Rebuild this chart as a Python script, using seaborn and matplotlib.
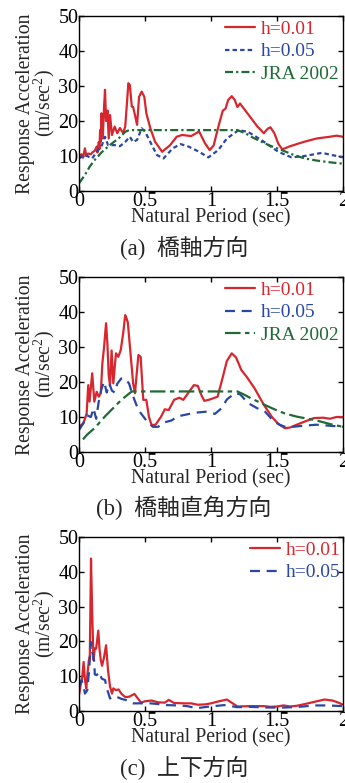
import numpy as np
import pandas as pd
import matplotlib
matplotlib.use("Agg")
import matplotlib.pyplot as plt
import seaborn as sns

# ---------------- data: acceleration response spectra ----------------
# (a) longitudinal direction
a_t_h01 = [0.00, 0.02, 0.03, 0.045, 0.055, 0.07, 0.09, 0.10, 0.12, 0.134, 0.14, 0.15,
           0.155, 0.16, 0.165, 0.17, 0.18, 0.19, 0.197, 0.205, 0.216, 0.225, 0.235,
           0.25, 0.27, 0.29, 0.31, 0.335, 0.35, 0.365, 0.374, 0.385, 0.40, 0.41,
           0.424, 0.44, 0.455, 0.475, 0.495, 0.51, 0.54, 0.576, 0.63, 0.69, 0.74,
           0.78, 0.85, 0.91, 0.955, 0.99, 1.02, 1.06, 1.09, 1.11, 1.13, 1.157,
           1.18, 1.20, 1.22, 1.25, 1.30, 1.35, 1.40, 1.43, 1.45, 1.48, 1.51, 1.54,
           1.60, 1.70, 1.80, 1.90, 1.95, 2.00]
a_h01 = [10.0, 10.5, 9.5, 12.2, 10.0, 10.7, 10.5, 11.0, 11.5, 12.7, 11.0, 14.0,
         12.0, 17.4, 14.0, 22.2, 15.0, 24.0, 28.9, 20.0, 23.0, 15.0, 21.7,
         16.0, 18.4, 16.5, 18.0, 16.5, 18.4, 26.0, 30.8, 30.3, 24.1, 24.0,
         21.7, 18.9, 26.9, 28.4, 26.9, 22.2, 18.0, 14.1, 11.2, 13.1, 15.5,
         16.0, 15.7, 17.0, 13.6, 11.7, 13.0, 19.0, 23.0, 23.5, 26.0, 27.1,
         26.0, 24.0, 25.0, 23.5, 21.0, 18.5, 16.5, 17.8, 18.2, 16.5, 13.5, 11.9,
         12.8, 14.0, 15.0, 15.5, 15.8, 15.5]
a_t_h05 = [0.00, 0.045, 0.10, 0.134, 0.17, 0.197, 0.22, 0.27, 0.31, 0.35, 0.385,
           0.41, 0.44, 0.475, 0.50, 0.54, 0.59, 0.64, 0.71, 0.77, 0.83, 0.91,
           0.98, 1.055, 1.12, 1.21, 1.28, 1.38, 1.51, 1.61, 1.71, 1.84, 2.00]
a_h05 = [9.3, 10.3, 9.3, 11.2, 12.7, 15.5, 13.1, 13.1, 12.8, 14.0, 15.5,
         14.0, 14.6, 17.9, 17.0, 14.0, 10.3, 9.3, 12.2, 13.4, 12.7, 11.2,
         9.6, 11.7, 15.0, 17.4, 16.9, 14.6, 11.2, 9.6, 10.0, 10.9, 9.6]
a_t_jra = [0.00, 0.045, 0.08, 0.12, 0.17, 0.22, 0.26, 0.30, 0.35, 0.38, 1.20,
           1.26, 1.32, 1.38, 1.45, 1.535, 1.62, 1.71, 1.80, 1.90, 2.00]
a_jra = [2.2, 4.6, 6.9, 8.9, 11.0, 12.7, 13.9, 15.0, 16.9, 17.4, 17.4,
         16.5, 15.2, 14.1, 12.9, 11.7, 10.4, 9.3, 8.7, 8.2, 7.8]

# (b) transverse direction
b_t_h01 = [0.00, 0.033, 0.058, 0.07, 0.08, 0.10, 0.116, 0.134, 0.15, 0.165, 0.177,
           0.19, 0.205, 0.215, 0.225, 0.235, 0.247, 0.26, 0.28, 0.298, 0.316,
           0.335, 0.35, 0.36, 0.37, 0.386, 0.40, 0.41, 0.424, 0.45, 0.467, 0.487,
           0.51, 0.53, 0.55, 0.58, 0.62, 0.65, 0.68, 0.72, 0.76, 0.79, 0.83, 0.87,
           0.90, 0.93, 0.95, 0.99, 1.05, 1.09, 1.12, 1.157, 1.19, 1.23, 1.27,
           1.33, 1.40, 1.46, 1.51, 1.56, 1.60, 1.65, 1.71, 1.78, 1.85, 1.90,
           1.95, 2.00]
b_h01 = [7.2, 8.2, 11.0, 19.1, 14.4, 22.5, 14.4, 17.2, 15.8, 16.8, 25.3,
         30.0, 36.8, 31.0, 22.0, 19.0, 29.0, 19.6, 28.2, 27.2, 29.1,
         34.0, 39.1, 38.2, 37.0, 30.0, 24.0, 19.6, 16.8, 27.7, 27.2, 14.9,
         14.9, 10.0, 7.7, 7.8, 10.0, 12.2, 12.0, 14.9, 15.5, 14.9, 17.0, 19.1,
         18.9, 16.0, 14.6, 15.0, 15.8, 21.5, 26.0, 28.2, 27.0, 23.4, 21.5,
         18.2, 13.5, 10.1, 8.0, 6.8, 7.0, 7.8, 8.7, 9.7, 9.8, 9.5,
         10.0, 10.0]
b_t_h05 = [0.00, 0.03, 0.06, 0.09, 0.11, 0.13, 0.15, 0.17, 0.19, 0.21, 0.23, 0.25,
           0.27, 0.29, 0.32, 0.34, 0.36, 0.38, 0.40, 0.42, 0.45, 0.48, 0.52,
           0.56, 0.60, 0.65, 0.70, 0.75, 0.80, 0.85, 0.90, 0.96, 1.03, 1.08,
           1.12, 1.18, 1.22, 1.28, 1.35, 1.41, 1.47, 1.52, 1.56, 1.62, 1.70,
           1.80, 1.90, 2.00]
b_h05 = [6.3, 8.0, 10.5, 10.0, 12.5, 9.5, 14.5, 18.0, 20.1, 17.0, 19.5, 17.5,
         17.0, 19.5, 21.0, 21.1, 20.5, 19.5, 17.0, 14.9, 12.0, 10.5, 8.5,
         7.2, 7.2, 8.5, 9.0, 10.2, 10.6, 11.0, 11.3, 11.5, 10.9, 12.5,
         15.0, 16.8, 16.5, 14.0, 12.5, 11.5, 9.0, 7.8, 7.2, 7.2, 7.5,
         7.8, 7.5, 7.2]
b_t_jra = [0.03, 0.06, 0.09, 0.12, 0.16, 0.20, 0.25, 0.30, 0.35, 0.40, 1.20,
           1.25, 1.30, 1.35, 1.41, 1.48, 1.56, 1.65, 1.72, 1.79, 1.90, 2.00]
b_jra = [3.6, 4.9, 5.9, 6.9, 8.6, 10.3, 12.2, 14.1, 15.8, 17.3, 17.3,
         16.4, 15.4, 14.5, 13.4, 12.2, 11.0, 10.1, 9.6, 9.1, 8.0, 7.2]

# (c) vertical direction
c_t_h01 = [0.00, 0.015, 0.025, 0.035, 0.045, 0.055, 0.065, 0.075, 0.082, 0.091,
           0.10, 0.11, 0.12, 0.13, 0.146, 0.155, 0.165, 0.175, 0.19, 0.205,
           0.22, 0.235, 0.25, 0.26, 0.28, 0.30, 0.32, 0.35, 0.38, 0.42, 0.45,
           0.47, 0.50, 0.55, 0.60, 0.65, 0.68, 0.72, 0.80, 0.85, 0.90, 0.955,
           1.00, 1.05, 1.12, 1.16, 1.20, 1.30, 1.40, 1.45, 1.50, 1.55, 1.60,
           1.65, 1.70, 1.78, 1.86, 1.92, 1.96, 2.00]
c_h01 = [4.6, 8.0, 10.0, 14.1, 9.0, 6.5, 11.0, 14.6, 16.0, 43.8,
         28.0, 14.6, 18.0, 17.9, 23.1, 18.0, 14.6, 13.0, 15.5, 18.9,
         11.7, 7.0, 5.0, 6.5, 6.0, 6.2, 5.0, 4.0, 4.1, 4.9, 3.4,
         2.4, 2.8, 3.0, 2.5, 2.4, 3.2, 2.3, 2.2, 2.2, 1.8, 1.9,
         2.2, 2.7, 3.3, 2.3, 1.3, 1.4, 1.4, 1.2, 1.3, 1.6, 1.3,
         1.5, 1.9, 2.6, 3.3, 3.0, 2.5, 1.8]
c_t_h05 = [0.00, 0.02, 0.035, 0.045, 0.063, 0.075, 0.091, 0.10, 0.114, 0.12,
           0.134, 0.154, 0.172, 0.197, 0.215, 0.235, 0.26, 0.285, 0.32, 0.36,
           0.41, 0.54, 0.60, 0.66, 0.75, 0.82, 0.89, 0.97, 1.05, 1.10, 1.20,
           1.30, 1.42, 1.55, 1.63, 1.70, 1.78, 1.88, 2.00]
c_h05 = [7.0, 8.9, 7.0, 5.0, 6.0, 11.0, 19.8, 17.0, 14.6, 10.5,
         10.3, 11.2, 9.3, 8.9, 6.0, 3.6, 4.2, 4.1, 3.5, 3.1,
         2.2, 2.2, 2.0, 1.7, 1.6, 1.4, 0.8, 1.2, 1.5, 1.7, 1.1,
         1.2, 1.0, 1.0, 1.1, 1.3, 1.6, 1.6, 1.4]

series_names = ["h=0.01", "h=0.05", "JRA 2002"]
captions = ["(a)  橋軸方向", "(b)  橋軸直角方向", "(c)  上下方向"]
x_ticks = [0, 0.5, 1, 1.5, 2]
x_tick_labels = ["0", "0.5", "1", "1.5", "2"]
y_ticks = [0, 10, 20, 30, 40, 50]

# ---------------- style ----------------
sns.set_theme(style="ticks")
plt.rcParams.update({
    "font.family": ["Liberation Serif", "Noto Sans CJK JP"],
    "mathtext.fontset": "custom",
    "mathtext.rm": "Liberation Serif",
    "mathtext.it": "Liberation Serif:italic",
    "font.size": 14.5,
    "axes.labelsize": 14.2,
    "xtick.labelsize": 14.5,
    "ytick.labelsize": 14.5,
    "axes.linewidth": 1.0,
    "axes.edgecolor": "black",
    "xtick.direction": "in",
    "ytick.direction": "in",
    "xtick.top": True,
    "ytick.right": True,
    "xtick.major.size": 3.5,
    "ytick.major.size": 3.5,
    "xtick.major.width": 1.0,
    "ytick.major.width": 1.0,
    "xtick.major.pad": 1.0,
    "ytick.major.pad": 0.5,
    "xtick.color": "black",
    "ytick.color": "black",
})

RED = "#d8262e"
BLUE = "#2a47a6"
GREEN = "#1f6a35"
palette = {"h=0.01": RED, "h=0.05": BLUE, "JRA 2002": GREEN}

fig = plt.figure(figsize=(3.45, 7.83), dpi=100)
W, H = 345.0, 783.0


def add_axes(top_px, bottom_px, left_px=79, right_px=343):
    return fig.add_axes([left_px / W, 1 - bottom_px / H,
                         (right_px - left_px) / W, (bottom_px - top_px) / H])


def long_frame(parts):
    frames = []
    for name, t, v in parts:
        frames.append(pd.DataFrame({"period": t, "acc": v, "series": name}))
    return pd.concat(frames, ignore_index=True)


panels = [
    dict(top=16, bottom=191,
         parts=[("h=0.01", a_t_h01, a_h01), ("h=0.05", a_t_h05, a_h05),
                ("JRA 2002", a_t_jra, a_jra)],
         dashes={"h=0.01": "", "h=0.05": (2.0, 1.4), "JRA 2002": (3.6, 1.4, 1.0, 1.4)},
         leg_x=0.553, cap_y=248),
    dict(top=277, bottom=452,
         parts=[("h=0.01", b_t_h01, b_h01), ("h=0.05", b_t_h05, b_h05),
                ("JRA 2002", b_t_jra, b_jra)],
         dashes={"h=0.01": "", "h=0.05": (4.5, 3.0), "JRA 2002": (7.0, 2.0, 2.0, 2.0)},
         leg_x=0.553, cap_y=508),
    dict(top=537, bottom=711,
         parts=[("h=0.01", c_t_h01, c_h01), ("h=0.05", c_t_h05, c_h05)],
         dashes={"h=0.01": "", "h=0.05": (4.5, 3.0)},
         leg_x=0.648, cap_y=768),
]

for i, p in enumerate(panels):
    ax = add_axes(p["top"], p["bottom"])
    df = long_frame(p["parts"])
    names = [n for n, _, _ in p["parts"]]
    sns.lineplot(data=df, x="period", y="acc", hue="series", style="series",
                 hue_order=names, style_order=names,
                 palette=palette, dashes=p["dashes"], linewidth=1.6,
                 estimator=None, legend=False, ax=ax)

    ax.set_xlim(0, 2)
    ax.set_ylim(0, 50)
    ax.set_xticks(x_ticks)
    ax.set_xticklabels(x_tick_labels)
    ax.set_yticks(y_ticks)
    ax.set_xlabel("Natural Period (sec)", labelpad=-2.5)
    ax.set_ylabel("Response Acceleration\n(m/sec$^{2}$)", linespacing=0.8, labelpad=1)
    for s in ax.spines.values():
        s.set_visible(True)
        s.set_color("black")

    leg = ax.legend(ax.lines, names, loc="upper left",
                    bbox_to_anchor=(p["leg_x"], 0.975), frameon=False,
                    borderpad=0, borderaxespad=0, handlelength=1.55,
                    handletextpad=0.3, labelspacing=0.25, labelcolor="linecolor",
                    fontsize=14)

    fig.text(184 / W, 1 - p["cap_y"] / H, captions[i], ha="center", va="center",
             fontsize=16.5)

fig.savefig("out.png", dpi=100)
